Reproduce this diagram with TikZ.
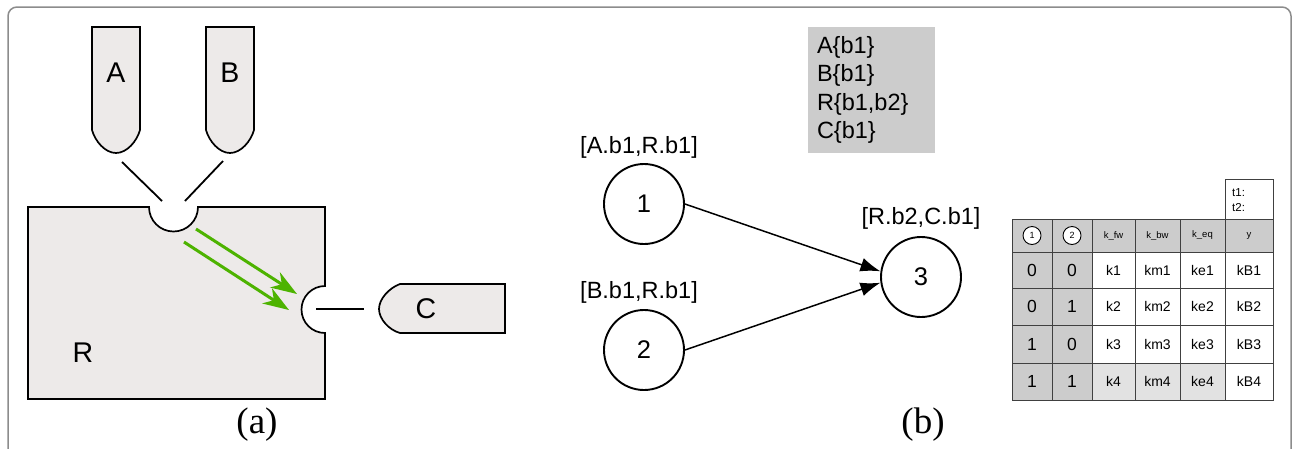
\documentclass[tikz,border=0pt]{standalone}
\usepackage{fontspec}
\setmainfont{Liberation Sans}
\newfontfamily\capfont{Liberation Serif}
\usetikzlibrary{arrows.meta,positioning}

\definecolor{tubegray}{HTML}{EDEAE9}
\definecolor{flowgreen}{HTML}{4DB300}
\definecolor{cellgray}{HTML}{CCCCCC}
\definecolor{celllight}{HTML}{E2E2E2}
\definecolor{framegray}{HTML}{8C8C8C}

\tikzset{
  tube/.style={draw=black, fill=tubegray, line width=1.7pt},
  bond/.style={line width=1.8pt},
  flow/.style={flowgreen, line width=3pt, -{Stealth[length=26pt,width=18pt,inset=8pt]}},
  biglabel/.style={font=\fontsize{28.5pt}{32pt}\selectfont},
  caption/.style={font=\capfont\fontsize{37pt}{40pt}\selectfont},
  state/.style={draw, circle, line width=1.9pt, minimum size=80pt, inner sep=0pt,
    font=\fontsize{25.5pt}{30pt}\selectfont},
  tag/.style={font=\fontsize{23.5pt}{26pt}\selectfont, inner sep=0pt},
  link/.style={line width=1.5pt, -{Latex[length=20pt,width=14pt]}},
  legend/.style={fill=cellgray, minimum width=127pt, minimum height=126pt, inner xsep=9pt,
    text width=109pt, align=left, font=\fontsize{23.5pt}{28.5pt}\selectfont},
  grid/.style={draw=black!75, line width=1pt},
  mini/.style={draw, circle, fill=white, line width=0.9pt, minimum size=18pt, inner sep=0pt,
    font=\fontsize{9pt}{10pt}\selectfont},
  hdr/.style={font=\fontsize{9.5pt}{10pt}\selectfont},
  bit/.style={font=\fontsize{17.5pt}{20pt}\selectfont},
  val/.style={font=\fontsize{14pt}{16pt}\selectfont},
  times/.style={font=\fontsize{11.5pt}{14.5pt}\selectfont, inner sep=0pt, align=left},
}

\begin{document}
\begin{tikzpicture}[x=1pt,y=-1pt]
\useasboundingbox (0,0) rectangle (1292,448);

%frame
\draw[framegray, line width=1.5pt, rounded corners=9pt] (8,7) rectangle (1291,480);

%tubes A and B
\foreach \x/\name in {92/A, 206/B}{
    \draw[tube] (\x,27) -- (\x,130) .. controls (\x+3,141) and (\x+13,153) .. (\x+24,153)
        .. controls (\x+35,153) and (\x+45,141) .. (\x+48,130) -- (\x+48,27) -- cycle;
    \node[biglabel] (tube\name) at (\x+24,73) {\name};
}

%tube C
\draw[tube] (505,284) -- (400,284) .. controls (389,288) and (379,299) .. (379,309)
    .. controls (379,319) and (389,330) .. (400,333) -- (505,333) -- cycle;
\node[biglabel] (tubeC) at (426,309) {C};

%vessel R
\draw[tube] (28,207) -- (149,207) arc[start angle=180, end angle=0, radius=24.5]
    -- (325,207) -- (325,286) arc[start angle=270, end angle=90, radius=23.5]
    -- (325,399) -- (28,399) -- cycle;
\node[biglabel] (vesR) at (83,353) {R};

%bonds
\draw[bond] (122,162) -- (162,201);
\draw[bond] (223,161) -- (185,201);
\draw[bond] (316,309) -- (364,309);

%flow arrows
\draw[flow] (196,229) -- (297,294);
\draw[flow] (184,242) -- (289,310);

\node[caption] (capA) at (257,425) {(a)};

%legend
\node[legend] (leg) at (871.5,90) {A\{b1\}\\B\{b1\}\\R\{b1,b2\}\\C\{b1\}};

%states
\node[state] (n1) at (644,204) {1};
\node[state] (n2) at (644,350) {2};
\node[state] (n3) at (921,277) {3};
\node[tag] (tag1) at (639,147) {[A.b1,R.b1]};
\node[tag] (tag2) at (639,292) {[B.b1,R.b1]};
\node[tag] (tag3) at (921,218) {[R.b2,C.b1]};

\draw[link] (n1.east) -- (n3.172);
\draw[link] (n2.east) -- (n3.188);

\node[caption] (capB) at (923,425) {(b)};

%table fills
\fill[cellgray] (1012,219) rectangle (1273,252);
\fill[cellgray] (1012,252) rectangle (1092,400);
\fill[celllight] (1092,363) rectangle (1225,400);

%table grid
\draw[grid] (1012,219) rectangle (1273,400);
\foreach \x in {1052,1092,1135,1180,1225} \draw[grid] (\x,219) -- (\x,400);
\foreach \y in {252,288,325,363} \draw[grid] (1012,\y) -- (1273,\y);
\draw[grid] (1225,179) rectangle (1273,219);
\node[times, anchor=north west] (tbox) at (1232,188.5) {t1:\\t2:};

%header
\node[mini] (h1) at (1032,235.5) {1};
\node[mini] (h2) at (1072,235.5) {2};
\foreach \x/\t [count=\i from 3] in {1113.5/k\_fw, 1157.5/k\_bw, 1202.5/k\_eq, 1249/y}
    \node[hdr] (h\i) at (\x,235.5) {\t};

%rows
\foreach \y/\a/\b [count=\r] in {270/0/0, 306.5/0/1, 344/1/0, 381.5/1/1}{
    \node[bit] (a\r) at (1032,\y) {\a};
    \node[bit] (b\r) at (1072,\y) {\b};
    \node[val] (f\r) at (1113.5,\y) {k\r};
    \node[val] (w\r) at (1157.5,\y) {km\r};
    \node[val] (e\r) at (1202.5,\y) {ke\r};
    \node[val] (y\r) at (1249,\y) {kB\r};
}

\end{tikzpicture}
\end{document}
